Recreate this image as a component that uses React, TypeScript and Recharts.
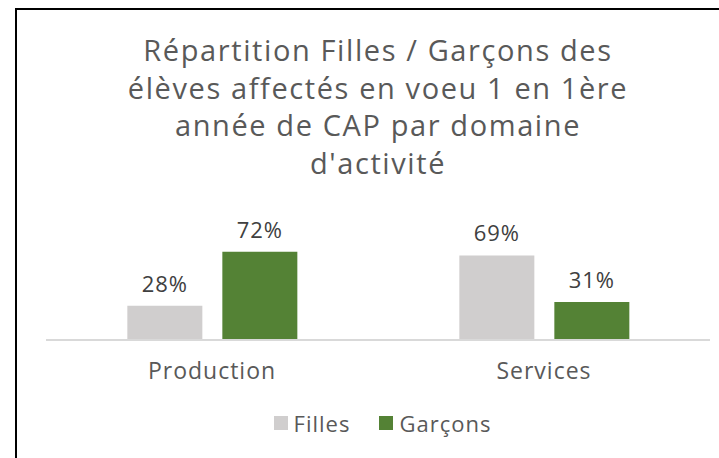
import { BarChart, Bar, XAxis, YAxis, LabelList } from "recharts"

const categories = ["Production", "Services"]
const filles = [28, 69]
const garcons = [72, 31]
const seriesNames = ["Filles", "Garçons"]
const titleLines = [
  "Répartition Filles / Garçons des",
  "élèves affectés en voeu 1 en 1ère",
  "année de CAP par domaine",
  "d'activité",
]

const GREY = "#d0cece"
const GREEN = "#548235"
const TEXT = "#595959"
const FONT = "'Open Sans', sans-serif"

const data = categories.map((c, i) => ({ cat: c, filles: filles[i], garcons: garcons[i] }))

function LegendRow() {
  const colors = [GREY, GREEN]
  return (
    <div style={{ display: "flex", justifyContent: "center", gap: 29, fontFamily: FONT, fontSize: 22, lineHeight: "22px", letterSpacing: 1, color: TEXT }}>
      {seriesNames.map((n, i) => (
        <div key={n} style={{ display: "flex", alignItems: "center", gap: 6 }}>
          <span style={{ width: 14, height: 14, background: colors[i], display: "inline-block" }} />
          <span>{n}</span>
        </div>
      ))}
    </div>
  )
}

const labelStyle = { fill: "#404040", fontSize: 22, fontFamily: FONT, letterSpacing: 1 }

export default function App() {
  return (
    <div style={{ position: "fixed", left: 0, top: 0, width: 719, height: 458, overflow: "hidden", background: "#fff" }}>
      <div style={{ position: "absolute", left: 15, top: 8, width: 800, height: 600, borderLeft: "2.5px solid #000", borderTop: "2px solid #000" }} />
      <div style={{ position: "absolute", left: 16, top: 31, width: 724, textAlign: "center", fontFamily: FONT, fontSize: 29, letterSpacing: 1.6, lineHeight: "37.5px", color: TEXT }}>
        {titleLines.map(l => <div key={l}>{l}</div>)}
      </div>
      <div style={{ position: "absolute", left: 0, top: 0 }}>
        {/* x axis height (30) sits inside the bottom margin, so plot bottom lands at 340 */}
        <BarChart width={719} height={458} data={data} margin={{ top: 242, right: 9, left: 46, bottom: 88 }}
          barCategoryGap="24.5%" barGap={20}>
          <XAxis dataKey="cat" axisLine={{ stroke: "#d9d9d9", strokeWidth: 2 }} tickLine={false} tickSize={0} tickMargin={23}
            tick={{ fill: TEXT, fontSize: 23, fontFamily: FONT, letterSpacing: 1 }} />
          <YAxis hide domain={[0, 80]} />
          <Bar dataKey="filles" name="Filles" fill={GREY} isAnimationActive={false}>
            <LabelList dataKey="filles" position="top" offset={14} formatter={(v: number) => `${v}%`} style={labelStyle} />
          </Bar>
          <Bar dataKey="garcons" name="Garçons" fill={GREEN} isAnimationActive={false}>
            <LabelList dataKey="garcons" position="top" offset={14} formatter={(v: number) => `${v}%`} style={labelStyle} />
          </Bar>
        </BarChart>
      </div>
      <div style={{ position: "absolute", left: 0, top: 412, width: 765 }}>
        <LegendRow />
      </div>
    </div>
  )
}
